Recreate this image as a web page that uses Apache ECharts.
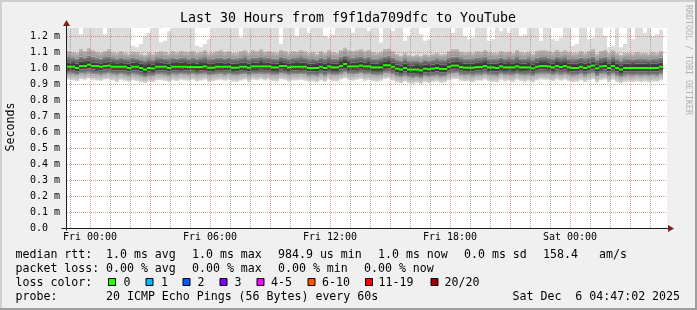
<!DOCTYPE html>
<html><head><meta charset="utf-8">
<script src="https://cdn.jsdelivr.net/npm/echarts@6.0.0/dist/echarts.min.js"></script>
<style>html,body{margin:0;padding:0;background:#f0f0f0;overflow:hidden}#c{width:697px;height:310px}</style>
</head><body><div id="c"></div>
<script>
// ---- time layout (hours relative to Fri 00:00) ----
const startHour = -1.15;
const endHour = 28.85;
const stepHours = 0.2; // 12-minute consolidated steps

// ---- data (microseconds) ----
const median = [
1008,1008,1000,1012,1012,1021,1012,1012,1008,1012,
1015,1008,1008,1008,1008,1000,1008,1008,1000,990,
1000,997,1008,1008,1008,1000,1008,1008,1008,1008,
1006,1006,1006,1006,1010,1002,1002,1008,1008,1008,
1008,1002,1002,1008,1008,1002,1010,1010,1010,1010,
1010,1004,1004,1012,1012,1004,1008,1008,1008,1008,
1000,1000,1000,1008,1000,1010,1004,1004,1012,1025,
1010,1010,1010,1015,1010,1010,1004,1004,1004,1017,
1017,1008,996,990,1000,990,990,990,985,996,
992,996,1000,994,994,1008,1015,1015,1006,1002,
1002,1002,1006,1006,1012,1004,1004,1000,1010,1004,
1004,1004,1010,1004,1004,1004,998,1008,1012,1012,
1010,1004,1012,1006,1012,1004,1000,1000,1008,1000,
1008,1015,998,1010,1012,1000,1012,1000,990,1000,
1000,1000,1000,1000,1000,1000,1000,1000,1008];
const hi1 = [
1035,1032,1028,1040,1038,1045,1036,1034,1030,1036,
1040,1032,1030,1033,1030,1026,1034,1032,1026,1018,
1025,1024,1032,1034,1030,1026,1033,1031,1034,1032,
1030,1033,1028,1031,1036,1027,1029,1033,1035,1030,
1034,1028,1027,1033,1035,1028,1036,1034,1037,1033,
1035,1030,1028,1038,1036,1029,1034,1032,1035,1033,
1026,1028,1025,1034,1027,1036,1030,1029,1038,1050,
1037,1035,1036,1041,1034,1037,1030,1028,1031,1042,
1043,1034,1022,1016,1026,1017,1015,1018,1012,1022,
1018,1022,1026,1020,1021,1034,1040,1042,1032,1028,
1029,1027,1033,1031,1038,1030,1028,1026,1036,1030,
1031,1029,1036,1030,1028,1031,1024,1034,1038,1037,
1036,1030,1038,1032,1037,1030,1026,1027,1034,1026,
1035,1040,1024,1036,1038,1026,1037,1027,1017,1026,
1027,1025,1028,1026,1027,1025,1028,1026,1034];
const hi2 = [
1068,1062,1060,1072,1066,1078,1070,1064,1060,1068,
1074,1062,1060,1066,1058,1056,1064,1060,1054,1048,
1056,1052,1062,1066,1060,1056,1064,1060,1066,1062,
1060,1066,1058,1062,1068,1056,1060,1064,1066,1060,
1066,1058,1056,1064,1068,1058,1066,1064,1070,1062,
1066,1060,1058,1070,1066,1058,1064,1062,1068,1064,
1056,1060,1054,1066,1058,1068,1060,1058,1070,1080,
1068,1066,1068,1074,1064,1070,1060,1058,1062,1074,
1076,1064,1052,1046,1056,1046,1044,1048,1042,1052,
1048,1052,1056,1050,1052,1064,1072,1074,1062,1058,
1060,1056,1064,1062,1070,1060,1058,1056,1066,1060,
1062,1058,1068,1060,1058,1062,1054,1066,1070,1068,
1066,1060,1070,1062,1068,1060,1056,1058,1066,1056,
1066,1072,1054,1066,1070,1056,1068,1058,1048,1056,
1058,1055,1060,1056,1058,1054,1060,1056,1066];
const hi3 = [
1110,1100,1096,1120,1108,1125,1112,1104,1098,1110,
1118,1100,1096,1108,1094,1090,1104,1100,1092,1084,
1094,1088,1102,1110,1100,1092,1106,1098,1110,1104,
1100,1110,1096,1104,1114,1092,1098,1108,1112,1100,
1110,1096,1094,1108,1114,1096,1112,1106,1118,1104,
1110,1100,1096,1116,1110,1096,1108,1104,1114,1106,
1094,1100,1090,1110,1096,1114,1100,1096,1116,1130,
1112,1108,1112,1120,1106,1116,1100,1096,1104,1122,
1124,1106,1090,1080,1094,1082,1078,1086,1076,1090,
1084,1090,1096,1086,1088,1108,1118,1120,1104,1098,
1100,1094,1108,1104,1116,1100,1096,1094,1110,1100,
1104,1096,1114,1100,1096,1104,1090,1110,1116,1112,
1110,1100,1116,1104,1112,1100,1094,1096,1110,1094,
1110,1118,1090,1110,1116,1094,1112,1096,1084,1094,
1096,1092,1100,1094,1096,1090,1100,1094,1110];
const pingMax = [
1300,1280,1300,1210,1300,1320,1290,1300,1270,1210,
1300,1290,1300,1310,1280,1300,1140,1130,1150,1200,
1220,1290,1300,1160,1170,1230,1300,1310,1290,1300,
1300,1280,1140,1130,1150,1180,1300,1290,1310,1300,
1300,1280,1300,1190,1300,1310,1290,1300,1300,1280,
1300,1290,1300,1150,1300,1280,1300,1200,1310,1300,
1220,1300,1290,1300,1200,1190,1210,1300,1300,1320,
1300,1220,1300,1310,1290,1230,1300,1280,1160,1300,
1300,1230,1290,1300,1170,1200,1280,1300,1210,1170,
1180,1300,1290,1300,1280,1300,1220,1300,1290,1200,
1180,1190,1300,1280,1300,1170,1180,1300,1230,1290,
1220,1300,1290,1200,1210,1300,1280,1300,1170,1300,
1290,1180,1170,1190,1300,1280,1140,1150,1300,1290,
1180,1190,1300,1280,1200,1130,1140,1300,1130,1150,
1300,1180,1290,1300,1220,1300,1200,1210,1240];
const lo1 = [
988,986,980,990,992,998,990,988,985,990,
992,986,984,986,985,978,986,984,978,968,
978,975,986,985,984,978,986,984,987,985,
984,986,982,985,988,980,981,986,987,984,
986,981,980,985,987,980,988,987,989,986,
988,982,981,990,988,982,986,985,987,986,
978,979,977,986,978,988,982,981,990,1000,
988,986,988,993,986,988,982,981,982,994,
995,986,974,968,978,968,967,969,962,974,
970,974,978,972,973,986,992,994,984,980,
981,979,984,983,990,982,980,978,988,982,
983,981,988,982,980,983,976,986,990,989,
988,982,990,984,989,982,978,979,986,978,
986,992,976,988,990,978,989,979,968,978,
979,977,980,978,979,977,980,978,986];
const lo2 = [
962,958,954,964,962,968,960,958,956,962,
964,958,956,960,956,950,958,956,950,942,
950,948,958,958,956,950,958,956,960,958,
956,960,954,958,962,952,954,958,960,956,
960,954,952,958,960,952,962,960,962,958,
962,956,954,964,960,954,958,958,960,958,
950,952,950,958,950,962,954,954,962,970,
960,958,960,966,958,960,954,952,956,966,
968,958,946,940,950,940,938,942,934,946,
942,946,950,944,946,958,964,966,956,952,
954,950,956,956,962,954,952,950,960,954,
956,952,960,954,952,956,948,958,962,962,
960,954,962,956,962,954,950,952,958,950,
958,964,948,960,962,950,962,950,940,950,
952,950,952,950,952,948,952,950,958];
const pingMin = [
928,924,918,930,926,934,926,922,920,928,
930,922,912,926,920,914,924,918,912,906,
916,912,924,924,920,914,922,918,926,922,
920,926,916,922,928,914,918,924,926,920,
926,916,914,922,928,914,928,924,930,922,
928,918,916,930,926,916,922,922,926,920,
914,916,912,922,914,928,918,916,928,936,
926,920,926,932,920,926,918,914,920,932,
934,920,910,904,916,906,902,908,900,912,
906,912,916,908,910,922,930,932,920,916,
918,912,922,920,928,918,914,912,926,918,
920,914,926,918,914,920,910,922,928,926,
926,918,928,920,926,918,912,914,922,912,
922,930,910,924,928,912,926,912,904,914,
916,912,916,912,916,910,916,914,922];

// ---- axes / ticks ----
const yMin = 0, yMax = 1.25;
const yTicks = [0,0.1,0.2,0.3,0.4,0.5,0.6,0.7,0.8,0.9,1.0,1.1,1.2];
const xLabelHours = [0,6,12,18,24];
const xLabelTexts = ['Fri 00:00','Fri 06:00','Fri 12:00','Fri 18:00','Sat 00:00'];
const xMajorHours = [0,3,6,9,12,15,18,21,24,27];
const xMinorHours = [-1,1,2,4,5,7,8,10,11,13,14,16,17,19,20,22,23,25,26,28];
const yMajor = [0.1,0.2,0.3,0.4,0.5,0.6,0.7,0.8,0.9,1.0,1.1,1.2];

// ---- text content ----
const titleText = 'Last 30 Hours from f9f1da709dfc to YouTube';
const yTitle = 'Seconds';
const watermark = 'RRDTOOL / TOBI OETIKER';
const lossLabels = ['0','1','2','3','4-5','6-10','11-19','20/20'];
const lossColors = ['#26ff00','#00b8ff','#0059ff','#7e00ff','#ff00ff','#ff5500','#ff0000','#a10000'];
const legendLine1 = [[15.5,'median rtt:'],[106,'1.0 ms avg'],[192,'1.0 ms max'],[278,'984.9 us min'],[378,'1.0 ms now'],[464,'0.0 ms sd'],[543,'158.4'],[599,'am/s']];
const legendLine2 = [[15.5,'packet loss:'],[106,'0.00 % avg'],[192,'0.00 % max'],[278,'0.00 % min'],[364,'0.00 % now']];
const legendLine3Head = [15.5,'loss color:'];
const lossBoxX = [108,145.5,182.5,219.5,256.5,307.5,365,430.5];
const lossTextX = [123.5,161,197.5,234.5,271,322,378.5,444.5];
const legendLine4 = [[15.5,'probe:'],[106,'20 ICMP Echo Pings (56 Bytes) every 60s'],[512.5,'Sat Dec  6 04:47:02 2025']];

const N = median.length;
[hi1,hi2,hi3,pingMax,lo1,lo2,pingMin].forEach(a => { if (a.length !== N) throw new Error('length mismatch ' + a.length + ' vs ' + N); });

const rows = median.map((m, i) => [
  startHour + i * stepHours, startHour + (i + 1) * stepHours,
  pingMin[i] / 1000, lo2[i] / 1000, lo1[i] / 1000, m / 1000,
  hi1[i] / 1000, hi2[i] / 1000, hi3[i] / 1000, pingMax[i] / 1000
]);

const G = echarts.graphic;
function grad(c0, c1) {
  return new G.LinearGradient(0, 0, 0, 1, [{offset: 0, color: c0}, {offset: 1, color: c1}]);
}
// [lowerIdx, upperIdx, topColor, bottomColor]
const bands = [
  [2, 3, '#a8a8a8', '#d8d8d8'],
  [3, 4, '#585858', '#9a9a9a'],
  [4, 5, '#262626', '#4e4e4e'],
  [5, 6, '#4a4a4a', '#262626'],
  [6, 7, '#8a8a8a', '#525252'],
  [7, 8, '#c0c0c0', '#929292'],
  [8, 9, '#dcdcdc', '#dcdcdc']
];

const FONT = 'DejaVu Sans Mono';
const chart = echarts.init(document.getElementById('c'), null, {renderer: 'canvas'});

function csRect(params) {
  const cs = params.coordSys;
  return {x: cs.x, y: cs.y, width: cs.width, height: cs.height};
}

const option = {
  animation: false,
  backgroundColor: '#f0f0f0',
  grid: {left: 67, top: 28, width: 600, height: 200, containLabel: false, show: true, backgroundColor: '#ffffff', borderWidth: 0},
  xAxis: {
    type: 'value', min: startHour, max: endHour,
    axisLine: {show: false}, axisTick: {show: false}, splitLine: {show: false},
    axisLabel: {
      customValues: xLabelHours,
      formatter: v => xLabelTexts[xLabelHours.indexOf(v)] || '',
      fontFamily: FONT, fontSize: 10, color: '#000', margin: 4
    }
  },
  yAxis: {
    type: 'value', min: yMin, max: yMax,
    axisLine: {show: false}, axisTick: {show: false}, splitLine: {show: false},
    axisLabel: {
      customValues: yTicks,
      formatter: v => (v === 0 ? '0.0  ' : v.toFixed(1) + ' m'),
      fontFamily: FONT, fontSize: 10, color: '#000', margin: 7
    }
  },
  series: [
    {
      type: 'custom', z: 2, data: rows, clip: true,
      renderItem(params, api) {
        const t0 = api.value(0), t1 = api.value(1);
        const children = [];
        const clipR = csRect(params);
        bands.forEach(([a, b, c0, c1]) => {
          const p0 = api.coord([t0, api.value(b)]);
          const p1 = api.coord([t1, api.value(a)]);
          const r = G.clipRectByRect({x: p0[0], y: p0[1], width: p1[0] - p0[0], height: p1[1] - p0[1]}, clipR);
          if (r) children.push({type: 'rect', shape: r, style: {fill: c0 === c1 ? c0 : grad(c0, c1)}});
        });
        return {type: 'group', children};
      }
    },
    {
      type: 'custom', z: 5, data: rows,
      renderItem(params, api) {
        const p0 = api.coord([api.value(0), api.value(5)]);
        const p1 = api.coord([api.value(1), api.value(5)]);
        return {type: 'rect', shape: {x: p0[0], y: p0[1] - 1, width: p1[0] - p0[0], height: 2},
          style: {fill: lossColors[0]}};
      }
    }
  ]
};
chart.setOption(option);

// ---- grid lines, frame, axes with arrows, texts ----
const o = chart.convertToPixel({gridIndex: 0}, [startHour, yMin]);
const tr = chart.convertToPixel({gridIndex: 0}, [endHour, yMax]);
const ox = Math.floor(o[0]) - 0.5, oy = Math.floor(o[1]) + 0.5;
const axisColor = '#1f1f1f', arrowColor = '#801f1f';
const minorColor = 'rgba(143,143,143,0.75)', majorColor = 'rgba(222,79,79,0.6)';
const gfx = [];
function vline(h, color) {
  const p = chart.convertToPixel({gridIndex: 0}, [h, yMin]);
  const x = Math.floor(p[0]) + 0.5;
  gfx.push({type: 'line', silent: true, z: 3, shape: {x1: x, y1: o[1], x2: x, y2: tr[1]},
    style: {stroke: color, lineWidth: 1, lineDash: [1, 1]}});
}
function hline(v, color) {
  const p = chart.convertToPixel({gridIndex: 0}, [startHour, v]);
  const y = Math.floor(p[1]) + 0.5;
  gfx.push({type: 'line', silent: true, z: 3, shape: {x1: o[0], y1: y, x2: tr[0], y2: y},
    style: {stroke: color, lineWidth: 1, lineDash: [1, 1]}});
}
xMinorHours.forEach(h => vline(h, minorColor));
xMajorHours.forEach(h => vline(h, majorColor));
yMajor.forEach(v => hline(v, majorColor));

gfx.push({type: 'rect', shape: {x: 0, y: 0, width: 697, height: 2}, style: {fill: '#cfcfcf'}, z: 100});
gfx.push({type: 'rect', shape: {x: 0, y: 0, width: 2, height: 310}, style: {fill: '#cfcfcf'}, z: 100});
gfx.push({type: 'rect', shape: {x: 0, y: 308, width: 697, height: 2}, style: {fill: '#9e9e9e'}, z: 100});
gfx.push({type: 'rect', shape: {x: 695, y: 0, width: 2, height: 310}, style: {fill: '#9e9e9e'}, z: 100});
gfx.push({type: 'line', shape: {x1: ox - 5, y1: oy, x2: tr[0] + 2, y2: oy}, style: {stroke: axisColor, lineWidth: 1}, z: 50});
gfx.push({type: 'line', shape: {x1: ox, y1: oy + 2, x2: ox, y2: tr[1] - 3}, style: {stroke: axisColor, lineWidth: 1}, z: 50});
gfx.push({type: 'polygon', shape: {points: [[tr[0] + 1, oy - 3.5], [tr[0] + 7, oy], [tr[0] + 1, oy + 3.5]]}, style: {fill: arrowColor}, z: 51});
gfx.push({type: 'polygon', shape: {points: [[ox - 3.5, tr[1] - 2], [ox, tr[1] - 8], [ox + 3.5, tr[1] - 2]]}, style: {fill: arrowColor}, z: 51});
gfx.push({type: 'text', x: 348, y: 19, style: {text: titleText, fontFamily: FONT, fontSize: 13.3, fill: '#000', align: 'center', verticalAlign: 'middle'}, z: 60});
gfx.push({type: 'text', x: 10.5, y: 127, rotation: Math.PI / 2, style: {text: yTitle, fontFamily: FONT, fontSize: 11.6, fill: '#000', align: 'center', verticalAlign: 'middle'}, z: 60});
gfx.push({type: 'text', x: 688.5, y: 60, rotation: -Math.PI / 2, style: {text: watermark, fontFamily: FONT, fontSize: 8.3, fill: '#b0b0b0', align: 'center', verticalAlign: 'middle'}, z: 60});
function txt(x, y, s) {
  gfx.push({type: 'text', x, y, style: {text: s, fontFamily: FONT, fontSize: 11.6, fill: '#000', align: 'left', verticalAlign: 'middle'}, z: 60});
}
legendLine1.forEach(([x, s]) => txt(x, 254.5, s));
legendLine2.forEach(([x, s]) => txt(x, 268.5, s));
txt(legendLine3Head[0], 282.5, legendLine3Head[1]);
lossLabels.forEach((s, i) => {
  gfx.push({type: 'rect', shape: {x: lossBoxX[i] + 0.5, y: 278.5, width: 7, height: 7}, style: {fill: lossColors[i], stroke: '#000', lineWidth: 1}, z: 60});
  txt(lossTextX[i], 282.5, s);
});
legendLine4.forEach(([x, s]) => txt(x, 296.5, s));
chart.setOption({graphic: gfx});
</script></body></html>
